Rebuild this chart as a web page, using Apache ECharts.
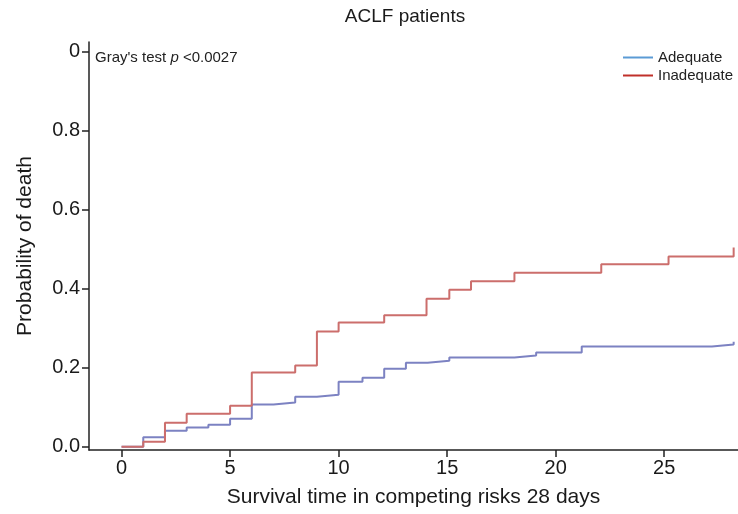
<!DOCTYPE html>
<html><head><meta charset="utf-8">
<script src="https://cdn.jsdelivr.net/npm/echarts@6/dist/echarts.min.js"></script>
<style>html,body{margin:0;padding:0;background:#fff}#c{width:738px;height:514px}</style>
</head><body><div id="c"></div>
<script>
const xTicks = [0, 5, 10, 15, 20, 25];
const yTicks = [0, 0.2, 0.4, 0.6, 0.8, 1.0];
const adequateTime = [0, 1, 2, 3, 4, 5, 6, 7, 8, 9, 10, 11.1, 12.1, 13.1, 14.1, 15.1, 18.1, 19.1, 21.2, 27.2, 28.2];
const adequateProb = [0, 0.024, 0.041, 0.049, 0.056, 0.071, 0.107, 0.112, 0.127, 0.132, 0.165, 0.175, 0.198, 0.213, 0.218, 0.226, 0.231, 0.239, 0.254, 0.259, 0.266];
const inadequateTime = [0, 1, 2, 3, 5, 6, 8, 9, 10, 12.1, 14.05, 15.1, 16.1, 18.1, 22.1, 25.2, 28.2];
const inadequateProb = [0, 0.013, 0.061, 0.084, 0.104, 0.188, 0.206, 0.292, 0.315, 0.333, 0.375, 0.398, 0.419, 0.441, 0.462, 0.482, 0.505];

const pair = (t, p) => t.map((v, i) => [v, p[i]]);
const F = '"Liberation Sans", Arial, sans-serif';
const chart = echarts.init(document.getElementById('c'));
chart.setOption({
  animation: false,
  title: { text: 'ACLF patients', left: 400, textAlign: 'center', top: 2,
    textStyle: { fontFamily: F, fontSize: 19, fontWeight: 'normal', color: '#1a1a1a' } },
  grid: { left: 89, right: 0, top: 42, bottom: 64 },
  legend: {
    orient: 'vertical', left: 618, top: 45, itemGap: 3, itemWidth: 30, itemHeight: 2,
    icon: 'rect', textStyle: { fontFamily: F, fontSize: 15, color: '#222' },
    data: [
      { name: 'Adequate', itemStyle: { color: '#5b9bd5' } },
      { name: 'Inadequate', itemStyle: { color: '#c0302a' } }
    ]
  },
  graphic: [{
    type: 'text', left: 95, top: 50,
    style: { rich: { a: { fontFamily: F, fontSize: 15, fill: '#222' }, i: { fontFamily: F, fontSize: 15, fontStyle: 'italic', fill: '#222' } },
      text: "{a|Gray's test }{i|p}{a| <0.0027}" }
  }],
  xAxis: {
    type: 'value', min: -1.5, max: 28.4,
    name: 'Survival time in competing risks 28 days', nameLocation: 'middle', nameGap: 37,
    nameTextStyle: { fontFamily: F, fontSize: 21, color: '#1a1a1a' },
    axisLine: { show: true, onZero: false, lineStyle: { color: '#222', width: 1.5 } },
    axisTick: { show: true, length: 7, customValues: xTicks, lineStyle: { color: '#222', width: 1.5 } },
    axisLabel: { customValues: xTicks, fontFamily: F, fontSize: 20, color: '#1a1a1a', margin: 8 },
    splitLine: { show: false }
  },
  yAxis: {
    type: 'value', min: -0.008, max: 1.025,
    name: 'Probability of death', nameLocation: 'middle', nameGap: 53, nameRotate: 90,
    nameTextStyle: { fontFamily: F, fontSize: 21, color: '#1a1a1a' },
    axisLine: { show: true, onZero: false, lineStyle: { color: '#222', width: 1.5 } },
    axisTick: { show: true, length: 7, customValues: yTicks, lineStyle: { color: '#222', width: 1.5 } },
    axisLabel: { customValues: yTicks, fontFamily: F, fontSize: 20, color: '#1a1a1a', margin: 9,
      formatter: v => v === 1 ? '0' : v.toFixed(1) },
    splitLine: { show: false }
  },
  series: [
    { name: 'Adequate', type: 'line', step: 'end', showSymbol: false,
      data: pair(adequateTime, adequateProb),
      lineStyle: { color: '#7c82c2', width: 2 }, itemStyle: { color: '#5b9bd5' } },
    { name: 'Inadequate', type: 'line', step: 'end', showSymbol: false,
      data: pair(inadequateTime, inadequateProb),
      lineStyle: { color: '#cc6e6c', width: 2 }, itemStyle: { color: '#c0302a' } }
  ]
});
</script></body></html>
